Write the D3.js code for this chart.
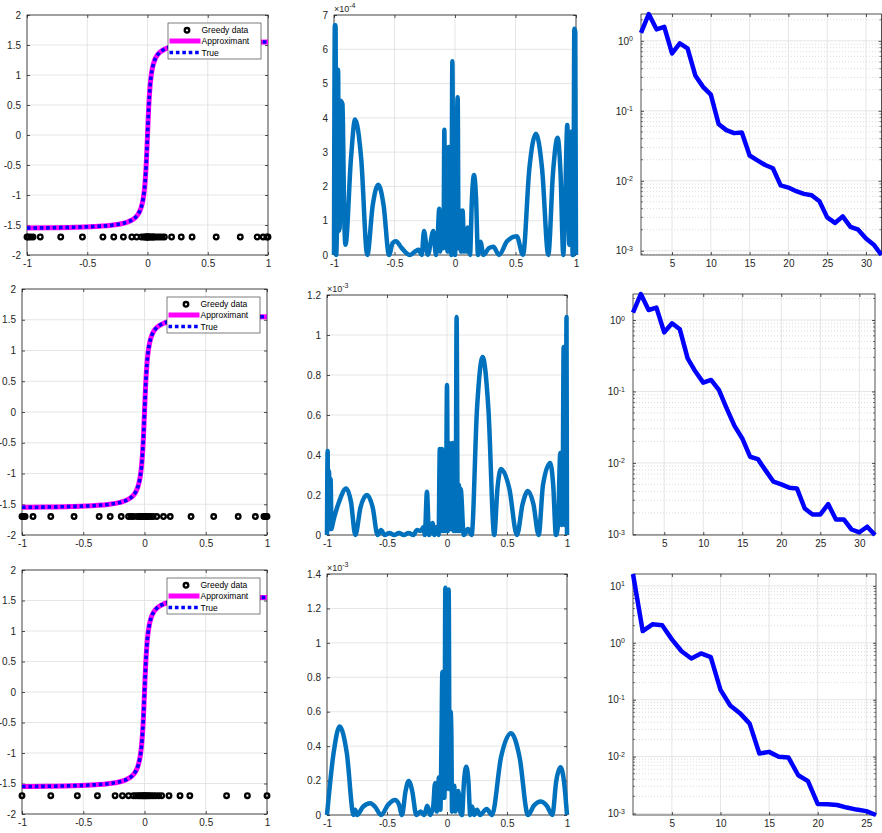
<!doctype html>
<html lang="en">
<head>
<meta charset="utf-8">
<title>Greedy data: approximant, error, coefficients</title>
<script src="https://d3js.org/d3.v7.min.js"></script>
<style>
  body { margin: 0; background: #ffffff; }
</style>
</head>
<body>
<svg id="fig" width="882" height="833"></svg>
<script>
// ---------------- data ----------------
var xTicksPM = [-1, -0.5, 0, 0.5, 1];
var fTicks = [-2, -1.5, -1, -0.5, 0, 0.5, 1, 1.5, 2];

// approximant and true function (same curve in every row)
var curveX = [-1, -0.8, -0.6, -0.4, -0.3, -0.2, -0.15, -0.1, -0.08, -0.06, -0.05, -0.04, -0.03, -0.02, -0.01, 0,
              0.01, 0.02, 0.03, 0.04, 0.05, 0.06, 0.08, 0.1, 0.15, 0.2, 0.3, 0.4, 0.6, 0.8, 1];
var curveY = [-1.55, -1.546, -1.537, -1.52, -1.504, -1.471, -1.437, -1.373, -1.326, -1.25, -1.19, -1.107, -0.983, -0.785, -0.464, 0,
              0.464, 0.785, 0.983, 1.107, 1.19, 1.25, 1.326, 1.373, 1.437, 1.471, 1.504, 1.52, 1.537, 1.546, 1.55];

var greedyLevel = -1.7;
var greedyX1 = [-1, -0.99, -0.97, -0.95, -0.89, -0.72, -0.54, -0.37, -0.28, -0.2, -0.13, -0.09, -0.05, -0.03, -0.02, -0.01, -0.005, 0,
                0.005, 0.01, 0.02, 0.03, 0.04, 0.05, 0.06, 0.08, 0.1, 0.12, 0.14, 0.2, 0.28, 0.37, 0.57, 0.77, 0.91, 0.96, 0.99, 1];
var greedyX2 = [-1, -0.99, -0.975, -0.91, -0.765, -0.575, -0.37, -0.28, -0.19, -0.13, -0.11, -0.09, -0.06, -0.04, -0.03, -0.02, -0.01, 0,
                0.01, 0.02, 0.03, 0.05, 0.07, 0.1, 0.155, 0.21, 0.38, 0.565, 0.765, 0.905, 0.975, 0.99, 1];
var greedyX3 = [-1, -0.765, -0.548, -0.384, -0.24, -0.18, -0.13, -0.09, -0.07, -0.05, -0.035, -0.02, -0.01, 0,
                0.01, 0.02, 0.035, 0.05, 0.07, 0.09, 0.115, 0.14, 0.2, 0.29, 0.37, 0.67, 0.84, 1];
var legendLabels = ["Greedy data", "Approximant", "True"];

// pointwise error (row 1 in units of 1e-4, rows 2 and 3 in units of 1e-3)
var errX1 = [-1, -0.993, -0.987, -0.982, -0.976, -0.971, -0.966, -0.96, -0.953, -0.947, -0.93, -0.915, -0.905, -0.86, -0.826, -0.775,
             -0.725, -0.68, -0.634, -0.59, -0.545, -0.515, -0.488, -0.44, -0.372, -0.33, -0.3, -0.275, -0.256, -0.225, -0.179, -0.157,
             -0.145, -0.13, -0.122, -0.11, -0.095, -0.088, -0.08, -0.07, -0.062, -0.052, -0.045, -0.035, -0.03, -0.022, -0.012, -0.005,
             0, 0.022, 0.03, 0.04, 0.05, 0.063, 0.075, 0.085, 0.095, 0.105, 0.124, 0.14, 0.157, 0.174, 0.19, 0.21, 0.236, 0.28, 0.317,
             0.364, 0.43, 0.51, 0.562, 0.614, 0.669, 0.72, 0.771, 0.81, 0.848, 0.872, 0.895, 0.91, 0.928, 0.945, 0.955, 0.964, 0.972,
             0.978, 0.986, 0.994, 1];
var errY1 = [0, 6.7, 6.7, 0, 0.7, 5.4, 5.4, 0.7, 0.8, 4.5, 4.4, 1.0, 0.3, 2.8, 3.95, 2.8,
             0, 1.45, 2.05, 1.45, 0, 0.35, 0.4, 0.2, 0, 0.1, 0.15, 0, 0.7, 0, 0.7, 0,
             0.4, 1.35, 0.1, 0.8, 0.2, 3.65, 0.3, 1.2, 0.1, 3.15, 0.2, 1.0, 0, 5.65, 0.3, 1.1,
             0, 4.6, 0.2, 1.3, 0.1, 1.3, 0.1, 0.7, 0.1, 0.8, 0, 1.65, 2.33, 1.65, 0, 0.39, 0, 0.2, 0.24,
             0, 0.4, 0.55, 0, 2.5, 3.54, 2.5, 0, 2.4, 3.42, 2.4, 0, 1.5, 3.79, 0.3, 1.5, 3.6, 0,
             0, 6.6, 6.5, 0];
var errX2 = [-1, -0.995, -0.99, -0.983, -0.977, -0.97, -0.962, -0.955, -0.9, -0.84, -0.8, -0.764, -0.72, -0.667, -0.62, -0.578,
             -0.55, -0.52, -0.48, -0.44, -0.4, -0.36, -0.32, -0.28, -0.25, -0.22, -0.195, -0.185, -0.167, -0.15, -0.12, -0.105,
             -0.085, -0.07, -0.06, -0.052, -0.042, -0.03, -0.02, -0.01, 0, 0.008, 0.018, 0.028, 0.038, 0.047, 0.055, 0.065,
             0.072, 0.08, 0.09, 0.1, 0.107, 0.114, 0.14, 0.175, 0.205, 0.25, 0.297, 0.345, 0.394, 0.42, 0.45, 0.52,
             0.583, 0.63, 0.675, 0.72, 0.764, 0.8, 0.86, 0.885, 0.908, 0.925, 0.944, 0.955, 0.965, 0.972, 0.98, 0.99, 0.996, 1];
var errY2 = [0, 0.42, 0.03, 0.32, 0.03, 0.28, 0.03, 0.05, 0.165, 0.233, 0.165, 0, 0.14, 0.2, 0.14, 0,
             0.025, 0, 0.01, 0, 0.01, 0, 0.01, 0, 0.025, 0.02, 0.04, 0, 0.216, 0, 0.06, 0,
             0.04, 0, 0.43, 0.02, 0.43, 0.02, 0.3, 0.02, 0.75, 0.02, 0.46, 0.03, 0.4, 0.46, 0.02, 0.35,
             0.02, 1.09, 0.02, 0.25, 0.02, 0.23, 0, 0.03, 0, 0.63, 0.89, 0.63, 0, 0.23, 0.33, 0.23,
             0, 0.155, 0.22, 0.155, 0, 0.25, 0.36, 0.25, 0, 0.05, 0.41, 0.05, 0.3, 0.94, 0.05, 0.2, 1.09, 0];
var errX3 = [-1, -0.945, -0.895, -0.835, -0.778, -0.765, -0.75, -0.7, -0.639, -0.6, -0.55, -0.49, -0.434, -0.4, -0.375, -0.345,
             -0.32, -0.29, -0.256, -0.22, -0.19, -0.165, -0.14, -0.115, -0.1, -0.085, -0.067, -0.055, -0.045, -0.039, -0.033, -0.027,
             -0.021, -0.014, -0.005, 0.005, 0.014, 0.022, 0.03, 0.036, 0.042, 0.05, 0.06, 0.07, 0.08, 0.094, 0.11, 0.125,
             0.142, 0.161, 0.178, 0.194, 0.21, 0.225, 0.25, 0.275, 0.33, 0.375, 0.45, 0.533, 0.605, 0.675, 0.725, 0.78,
             0.83, 0.878, 0.91, 0.945, 0.975, 1];
var errY3 = [0, 0.36, 0.514, 0.36, 0, 0.03, 0, 0.048, 0.068, 0.048, 0, 0.06, 0.087, 0.06, 0, 0.14,
             0.198, 0.14, 0, 0.02, 0, 0.054, 0, 0.05, 0.184, 0.02, 0.22, 0.03, 0.5, 0.83, 0.1, 0.68,
             0.1, 1.32, 0.15, 0.4, 1.31, 0.15, 0.6, 0.5, 0.02, 0.12, 0.17, 0.02, 0.1, 0.14, 0.02, 0,
             0.2, 0.28, 0.2, 0, 0.05, 0, 0.03, 0, 0.035, 0, 0.335, 0.475, 0.335, 0, 0.055, 0.078,
             0.055, 0, 0.195, 0.277, 0.195, 0];
var errTicks1 = [0, 1, 2, 3, 4, 5, 6, 7];
var errTicks2 = [0, 0.2, 0.4, 0.6, 0.8, 1, 1.2];
var errTicks3 = [0, 0.2, 0.4, 0.6, 0.8, 1, 1.2, 1.4];
var errExp = [-4, -3, -3];

// coefficient decay (log scale), one value per index 1..N
var coefY1 = [1.30, 2.42, 1.46, 1.59, 0.66, 0.92, 0.78, 0.32, 0.22, 0.17, 0.065, 0.053, 0.048, 0.049, 0.023, 0.0196,
              0.0168, 0.0151, 0.0086, 0.0080, 0.0071, 0.0065, 0.0062, 0.0051, 0.0030, 0.0025, 0.0031, 0.0022, 0.0020, 0.0015, 0.00122, 0.00087];
var coefY2 = [1.27, 2.31, 1.38, 1.49, 0.67, 0.90, 0.74, 0.29, 0.19, 0.133, 0.145, 0.105, 0.058, 0.033, 0.022, 0.0122,
              0.0113, 0.0078, 0.00546, 0.0050, 0.0045, 0.0044, 0.0023, 0.0019, 0.0019, 0.00265, 0.00162, 0.00162, 0.00117, 0.00107, 0.00128, 0.00098];
var coefY3 = [16.2, 1.61, 2.11, 2.03, 1.15, 0.71, 0.53, 0.65, 0.56, 0.149, 0.079, 0.058, 0.038, 0.0113, 0.0121, 0.0099,
              0.0096, 0.0047, 0.0037, 0.00147, 0.00145, 0.00141, 0.00127, 0.00117, 0.0011, 0.00094];
var coefTicks12 = [5, 10, 15, 20, 25, 30];
var coefTicks3 = [5, 10, 15, 20, 25];

// ---------------- layout ----------------
var FONT = '"Liberation Sans", Helvetica, Arial, sans-serif';
var AX = "#262626";
var GRID = "#dedede";

var boxes = [
    { f: {x0: 27, x1: 268, y0: 15, y1: 255},  e: {x0: 334, x1: 576, y0: 15, y1: 255},  c: {x0: 641, x1: 881.5, y0: 14, y1: 255} },
    { f: {x0: 22, x1: 267, y0: 289, y1: 535}, e: {x0: 327, x1: 567, y0: 295, y1: 535}, c: {x0: 633, x1: 875, y0: 294, y1: 535} },
    { f: {x0: 22, x1: 267, y0: 570, y1: 814}, e: {x0: 327, x1: 567, y0: 574, y1: 815}, c: {x0: 633, x1: 876, y0: 574, y1: 815} }
];

var svg = d3.select("#fig");

function styleAxis(a) {
    a.select(".domain").remove();
    a.attr("font-family", FONT).attr("font-size", 10);
    a.selectAll("line").attr("stroke", AX).attr("stroke-width", 0.8);
    a.selectAll("text").attr("fill", AX);
}

// axes box with grid, inward ticks on all four sides
function frame(box, x, y, xTicks, yTicks, yFmt, minor) {
    var w = box.x1 - box.x0, h = box.y1 - box.y0;
    x.range([0, w]);
    y.range([h, 0]);
    var g = svg.append("g").attr("transform", "translate(" + box.x0 + "," + box.y0 + ")");

    if (minor) {
        g.append("g").selectAll("line").data(minor).join("line")
            .attr("x1", 0).attr("x2", w)
            .attr("y1", function(d) { return y(d); }).attr("y2", function(d) { return y(d); })
            .attr("stroke", "#cdcdcd").attr("stroke-width", 0.7).attr("stroke-dasharray", "1,2");
    }
    var grid = g.append("g").attr("stroke", GRID).attr("stroke-width", 0.8);
    grid.selectAll(".gx").data(xTicks).join("line").attr("class", "gx")
        .attr("x1", function(d) { return x(d); }).attr("x2", function(d) { return x(d); })
        .attr("y1", 0).attr("y2", h);
    grid.selectAll(".gy").data(yTicks).join("line").attr("class", "gy")
        .attr("x1", 0).attr("x2", w)
        .attr("y1", function(d) { return y(d); }).attr("y2", function(d) { return y(d); });

    g.append("rect").attr("width", w).attr("height", h)
        .attr("fill", "none").attr("stroke", AX).attr("stroke-width", 0.8);

    g.append("g").attr("transform", "translate(0," + h + ")")
        .call(d3.axisBottom(x).tickValues(xTicks).tickSizeInner(-3).tickSizeOuter(0).tickPadding(5)
            .tickFormat(function(d) { return String(d); }))
        .call(styleAxis);
    g.append("g")
        .call(d3.axisTop(x).tickValues(xTicks).tickSizeInner(-3).tickSizeOuter(0).tickFormat(function() { return ""; }))
        .call(styleAxis);
    var left = g.append("g")
        .call(d3.axisLeft(y).tickValues(yTicks).tickSizeInner(-3).tickSizeOuter(0).tickPadding(minor ? 8 : 6)
            .tickFormat(yFmt))
        .call(styleAxis);
    g.append("g").attr("transform", "translate(" + w + ",0)")
        .call(d3.axisRight(y).tickValues(yTicks).tickSizeInner(-3).tickSizeOuter(0).tickFormat(function() { return ""; }))
        .call(styleAxis);

    if (minor) {
        // log labels as 10 with a raised exponent
        left.selectAll(".tick text").each(function(d) {
            var t = d3.select(this);
            t.text("10");
            t.append("tspan").attr("dy", "-0.45em").attr("font-size", 7).text(Math.round(Math.log10(d)));
        });
        var mt = g.append("g").attr("stroke", AX).attr("stroke-width", 0.6);
        mt.selectAll(".ml").data(minor).join("line").attr("class", "ml")
            .attr("x1", 0).attr("x2", 2)
            .attr("y1", function(d) { return y(d); }).attr("y2", function(d) { return y(d); });
        mt.selectAll(".mr").data(minor).join("line").attr("class", "mr")
            .attr("x1", w - 2).attr("x2", w)
            .attr("y1", function(d) { return y(d); }).attr("y2", function(d) { return y(d); });
    }
    return g;
}

// ---------------- column 1: data, approximant and true function ----------------
var greedyAll = [greedyX1, greedyX2, greedyX3];
var curvePts = curveX.map(function(v, i) { return [v, curveY[i]]; });

boxes.forEach(function(b, r) {
    var x = d3.scaleLinear().domain([-1, 1]);
    var y = d3.scaleLinear().domain([-2, 2]);
    var g = frame(b.f, x, y, xTicksPM, fTicks, function(d) { return String(d); }, null);

    g.append("g").selectAll("circle").data(greedyAll[r]).join("circle")
        .attr("cx", function(d) { return x(d); }).attr("cy", y(greedyLevel))
        .attr("r", 2.3).attr("fill", "none").attr("stroke", "#000").attr("stroke-width", 2.3);

    var line = d3.line().x(function(d) { return x(d[0]); }).y(function(d) { return y(d[1]); })
        .curve(d3.curveMonotoneX);
    g.append("path").attr("d", line(curvePts))
        .attr("fill", "none").attr("stroke", "#ff00ff").attr("stroke-width", 5);
    g.append("path").attr("d", line(curvePts))
        .attr("fill", "none").attr("stroke", "#0000ff").attr("stroke-width", 3.6)
        .attr("stroke-dasharray", "3.6,2.8");

    // legend
    var lg = svg.append("g").attr("transform", "translate(" + (b.f.x1 - 100) + "," + (b.f.y0 + 8) + ")");
    lg.append("rect").attr("width", 93).attr("height", 36)
        .attr("fill", "#fff").attr("stroke", AX).attr("stroke-width", 0.6);
    lg.append("circle").attr("cx", 19).attr("cy", 7.3).attr("r", 2.3)
        .attr("fill", "none").attr("stroke", "#000").attr("stroke-width", 2.3);
    lg.append("line").attr("x1", 1.5).attr("x2", 32.5).attr("y1", 18).attr("y2", 18)
        .attr("stroke", "#ff00ff").attr("stroke-width", 5);
    lg.append("line").attr("x1", 1.5).attr("x2", 32.5).attr("y1", 29.5).attr("y2", 29.5)
        .attr("stroke", "#0000ff").attr("stroke-width", 3.6).attr("stroke-dasharray", "3.6,2.8");
    lg.selectAll("text").data(legendLabels).join("text")
        .attr("x", 33.5).attr("y", function(d, i) { return [7.3, 18, 29.5][i] + 3; })
        .attr("font-family", FONT).attr("font-size", 8.5).attr("fill", "#000")
        .text(function(d) { return d; });
});

// ---------------- column 2: pointwise error ----------------
var errSets = [
    { xs: errX1, ys: errY1, ticks: errTicks1 },
    { xs: errX2, ys: errY2, ticks: errTicks2 },
    { xs: errX3, ys: errY3, ticks: errTicks3 }
];
boxes.forEach(function(b, r) {
    var s = errSets[r];
    var x = d3.scaleLinear().domain([-1, 1]);
    var y = d3.scaleLinear().domain([0, s.ticks[s.ticks.length - 1]]);
    var g = frame(b.e, x, y, xTicksPM, s.ticks, function(d) { return String(d); }, null);

    var pts = s.xs.map(function(v, i) { return [v, s.ys[i]]; });
    var line = d3.line().x(function(d) { return x(d[0]); }).y(function(d) { return y(d[1]); })
        .curve(d3.curveMonotoneX);
    g.append("path").attr("d", line(pts))
        .attr("fill", "none").attr("stroke", "#0072bd").attr("stroke-width", 4.5)
        .attr("stroke-linejoin", "round");

    var ex = svg.append("text").attr("x", b.e.x0).attr("y", b.e.y0 - 3.5)
        .attr("font-family", FONT).attr("font-size", 9).attr("fill", AX).text("\u00d710");
    ex.append("tspan").attr("dy", -3.5).attr("font-size", 7).text(String(errExp[r]));
});

// ---------------- column 3: coefficient decay ----------------
var coefSets = [
    { ys: coefY1, ticks: coefTicks12 },
    { ys: coefY2, ticks: coefTicks12 },
    { ys: coefY3, ticks: coefTicks3 }
];
boxes.forEach(function(b, r) {
    var s = coefSets[r];
    var n = s.ys.length;
    var x = d3.scaleLinear().domain([1, n]);
    var y = d3.scaleLog().domain(d3.extent(s.ys));
    var lo = Math.floor(Math.log10(y.domain()[0])), hi = Math.ceil(Math.log10(y.domain()[1]));
    var decades = [], minor = [];
    for (var k = lo; k <= hi; k++) {
        var p = Math.pow(10, k);
        if (p >= y.domain()[0] && p <= y.domain()[1]) decades.push(p);
        for (var m = 2; m <= 9; m++) {
            var v = m * p;
            if (v >= y.domain()[0] && v <= y.domain()[1]) minor.push(v);
        }
    }
    var g = frame(b.c, x, y, s.ticks, decades, function() { return ""; }, minor);

    var line = d3.line().x(function(d, i) { return x(i + 1); }).y(function(d) { return y(d); });
    g.append("path").attr("d", line(s.ys))
        .attr("fill", "none").attr("stroke", "#0000ff").attr("stroke-width", 4.5)
        .attr("stroke-linejoin", "round");
});
</script>
</body>
</html>
